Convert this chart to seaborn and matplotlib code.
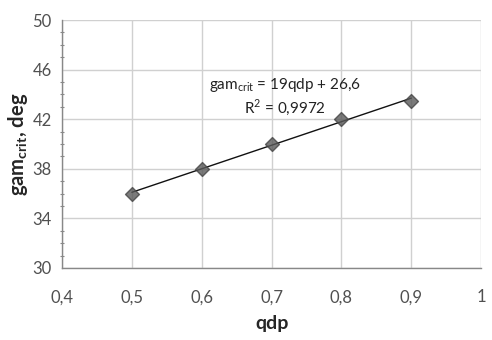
import numpy as np
import seaborn as sns
from matplotlib import pyplot as plt
from matplotlib.ticker import MultipleLocator, FuncFormatter

qdp = [0.5, 0.6, 0.7, 0.8, 0.9]
gam_crit = [36.0, 38.0, 40.0, 42.0, 43.5]

x_ticks = [0.4, 0.5, 0.6, 0.7, 0.8, 0.9, 1.0]
y_ticks = [30, 34, 38, 42, 46, 50]

sns.set_style("whitegrid")
plt.rcParams['font.family'] = ['Lato', 'DejaVu Sans']
plt.rcParams['mathtext.fontset'] = 'custom'
plt.rcParams['mathtext.rm'] = 'Lato'
plt.rcParams['mathtext.bf'] = 'Lato:bold'

fig = plt.figure(figsize=(4.92, 3.40), dpi=100)
ax = fig.add_axes([0.126, 0.212, 0.852, 0.729])

sns.regplot(x=qdp, y=gam_crit, ci=None, ax=ax, marker='D',
            scatter_kws=dict(s=50, color='#5a5a5a', edgecolor='#444444', zorder=3),
            line_kws=dict(color='#111111', lw=1.0, zorder=2))

ax.set_xlim(0.4, 1.0)
ax.set_ylim(30, 50)
ax.set_xticks(x_ticks)
ax.set_yticks(y_ticks)
ax.yaxis.set_minor_locator(MultipleLocator(1))
fmt = lambda v, p: ('%g' % v).replace('.', ',')
ax.xaxis.set_major_formatter(FuncFormatter(fmt))
ax.yaxis.set_major_formatter(FuncFormatter(fmt))

ax.grid(True, color='#d0d0d0', lw=1.0)
for s in ['top', 'right']:
    ax.spines[s].set_visible(False)
for s in ['left', 'bottom']:
    ax.spines[s].set_color('#888888')
    ax.spines[s].set_linewidth(1.0)

ax.tick_params(axis='both', which='major', direction='inout', length=5, width=0.8,
               color='#888888', labelsize=12, labelcolor='#505050', pad=5)
ax.tick_params(axis='y', which='minor', direction='inout', length=3, width=0.8,
               color='#888888', left=True)
ax.tick_params(axis='x', which='major', pad=13)

ax.set_xlabel('qdp', fontsize=14, fontweight='bold', labelpad=7)
ax.set_ylabel(r'$\mathbf{gam_{crit}}$, deg', fontsize=14.5, fontweight='bold', labelpad=2)

k, b = np.polyfit(qdp, gam_crit, 1)
r2 = np.corrcoef(qdp, gam_crit)[0, 1] ** 2
ax.text(0.719, 44.8, (r'gam$_{\mathregular{crit}}$ = %.0fqdp + %.1f' % (k, b)).replace('.', ','),
        ha='center', va='center', fontsize=11, color='#222222')
ax.text(0.719, 43.0, (r'R$^{\mathregular{2}}$ = %.4f' % r2).replace('.', ','),
        ha='center', va='center', fontsize=11, color='#222222')

plt.savefig('out.png', dpi=100)
